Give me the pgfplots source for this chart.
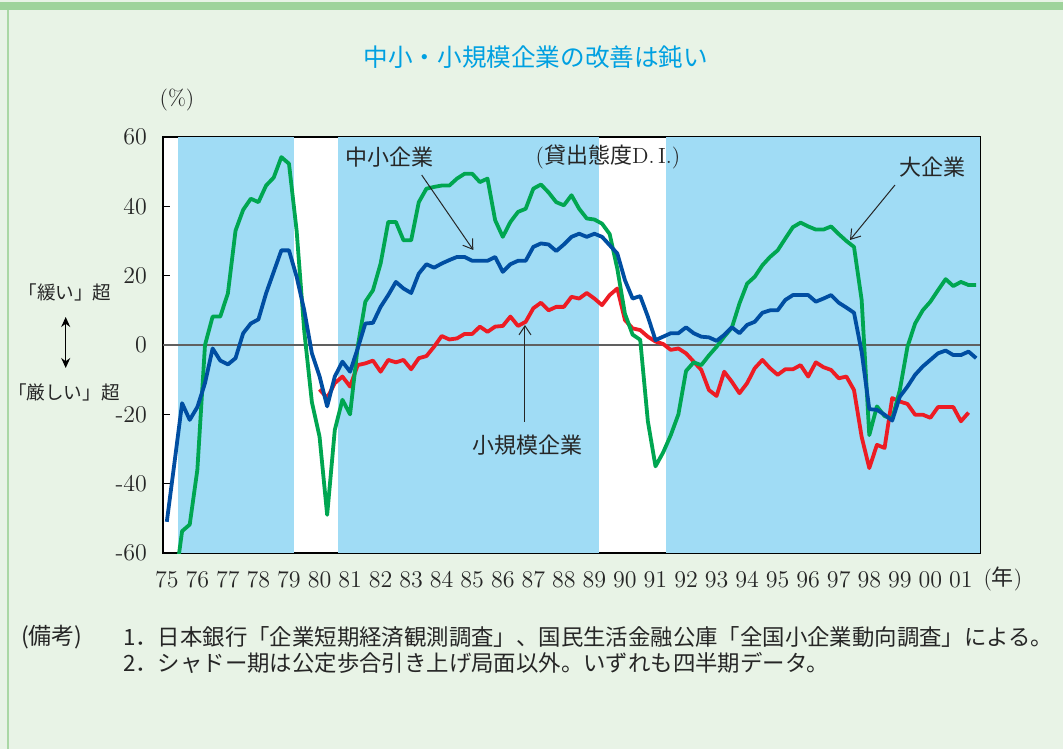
\documentclass[border=0pt]{standalone}
\usepackage{fontspec}
\usepackage{pgfplots}
\pgfplotsset{compat=1.18}
\usetikzlibrary{arrows.meta}
\newfontfamily\cjk{Noto Sans CJK JP}
\definecolor{bg}{RGB}{232,243,230}
\definecolor{topbar}{RGB}{158,211,155}
\definecolor{leftbar}{RGB}{170,215,165}
\definecolor{shade}{RGB}{160,220,245}
\definecolor{cgreen}{RGB}{0,166,81}
\definecolor{cblue}{RGB}{0,78,162}
\definecolor{cred}{RGB}{237,28,36}
\definecolor{ctitle}{RGB}{0,160,225}
\definecolor{zline}{RGB}{96,96,96}

\pgfplotstableread{
i v
0 -72
1 -70
2 -53.7
3 -51.8
4 -36
5 0
6 8.2
7 8.2
8 14.9
9 33
10 39
11 42.2
12 41.2
13 46
14 48.3
15 54.2
16 52.3
17 33
18 4
19 -16.5
20 -26.4
21 -49
22 -24.5
23 -15.8
24 -20
25 -0.5
26 12.5
27 15.8
28 23.5
29 35.5
30 35.5
31 30.2
32 30.2
33 41.2
34 45.1
35 45.6
36 46
37 46
38 48
39 49.4
40 49.4
41 47
42 48
43 36
44 31.2
45 35.5
46 38.4
47 39.3
48 45.1
49 46.3
50 44
51 41.2
52 40.3
53 43.2
54 39.3
55 36.5
56 36.2
57 35
58 32
59 22
60 9
61 3
62 1.5
63 -22
64 -35
65 -31
66 -26
67 -20
68 -7.5
69 -5
70 -5.8
71 -3
72 -0.5
73 2.4
74 5
75 12
76 17.7
77 19.7
78 23
79 25.4
80 27.3
81 30.7
82 34
83 35.3
84 34.2
85 33.3
86 33.3
87 34.2
88 32
89 30
90 28.3
91 13
92 -26
93 -17.7
94 -20.5
95 -21.3
96 -13
97 -0.5
98 6.2
99 10
100 12.5
101 15.8
102 19
103 17
104 18.2
105 17.3
106 17.3
}\large

\pgfplotstableread{
i v
0 -51
1 -34
2 -16.8
3 -21.6
4 -17.9
5 -11
6 -1
7 -4.5
8 -5.6
9 -3.8
10 3.4
11 6.2
12 7.4
13 14.9
14 21.1
15 27.3
16 27.3
17 19.7
18 10
19 -2.4
20 -9
21 -17.7
22 -9.1
23 -4.8
24 -7.7
25 -1
26 6.2
27 6.4
28 11
29 14.4
30 18.2
31 16.3
32 15
33 20.6
34 23.3
35 22.3
36 23.5
37 24.5
38 25.4
39 25.4
40 24.3
41 24.3
42 24.3
43 25.4
44 21.1
45 23.3
46 24.3
47 24.3
48 28.3
49 29.3
50 29
51 27.1
52 29
53 31.2
54 32.1
55 31.2
56 32.1
57 31.2
58 28.8
59 26.4
60 18.7
61 13.4
62 14.1
63 8.2
64 1.4
65 2.4
66 3.4
67 3.4
68 5.1
69 3.4
70 2.4
71 2.2
72 1.2
73 2.9
74 5.1
75 3.4
76 5.8
77 6.7
78 9.3
79 10
80 10
81 13
82 14.4
83 14.4
84 14.4
85 12.5
86 13.4
87 14.4
88 12.2
89 10.8
90 9.3
91 -2
92 -18.5
93 -18.7
94 -20.1
95 -21.8
96 -14.9
97 -12
98 -8.6
99 -6.2
100 -4.3
101 -2.4
102 -1.6
103 -2.9
104 -2.9
105 -1.9
106 -3.8
}\mid

\pgfplotstableread{
i v
20 -12.8
21 -15.3
22 -11
23 -9.1
24 -12
25 -5.8
26 -5.3
27 -4.5
28 -7.7
29 -4.3
30 -5
31 -4.3
32 -7
33 -3.8
34 -3.2
35 -0.5
36 2.6
37 1.6
38 1.9
39 3.2
40 3.2
41 5.3
42 3.8
43 5.3
44 5.5
45 8.2
46 5.5
47 6.7
48 10.6
49 12.2
50 10
51 11
52 11
53 13.9
54 13.4
55 15
56 13.4
57 11.5
58 14.4
59 16.3
60 7.2
61 4.8
62 4.3
63 2.4
64 1
65 0.3
66 -1.4
67 -1
68 -2.4
69 -4.8
70 -7.2
71 -13
72 -14.7
73 -7.7
74 -10.6
75 -13.9
76 -11
77 -6.7
78 -4.3
79 -6.7
80 -8.6
81 -7
82 -7
83 -5.8
84 -9.1
85 -5
86 -6.4
87 -7.2
88 -9.6
89 -9.1
90 -13
91 -26.5
92 -35.5
93 -28.8
94 -29.7
95 -15.3
96 -16.3
97 -17
98 -20.1
99 -20.1
100 -21
101 -17.9
102 -17.9
103 -17.9
104 -22
105 -19.5
}\small

\begin{document}
\begin{tikzpicture}
\fill[bg] (0,0) rectangle (531.5bp,-374.5bp);
\path[use as bounding box] (0,0) rectangle (531.5bp,-374.5bp);
\fill[topbar] (0,-1bp) rectangle (531.5bp,-5bp);
\fill[leftbar] (3.5bp,-5bp) rectangle (4.6bp,-374.5bp);
\begin{axis}[
  at={(81.5bp,-276.5bp)}, anchor=south west,
  scale only axis, width=408.5bp, height=208bp,
  xmin=-0.5, xmax=106.5, ymin=-60, ymax=60,
  xtick={0,4,...,104},
  xticklabels={75,76,77,78,79,80,81,82,83,84,85,86,87,88,89,90,91,92,93,94,95,96,97,98,99,00,01},
  ytick={-60,-40,-20,0,20,40,60},
  yticklabels={-60,-40,-20,0,20,40,60},
  tick align=inside, major tick length=3.5bp,
  xtick style={draw=none},
  ytick style={black, line width=0.6bp},
  axis line style={black, line width=0.9bp},
  tick label style={font=\fontsize{12bp}{14bp}\selectfont, text=black!85},
  yticklabel style={xshift=-4.5bp},
  xticklabel style={yshift=-5.5bp},
  axis background/.style={fill=white},
]
\addplot[fill=shade, draw=none] coordinates {(1.45,-60) (16.65,-60) (16.65,60) (1.45,60)} -- cycle;
\addplot[fill=shade, draw=none] coordinates {(22.45,-60) (56.6,-60) (56.6,60) (22.45,60)} -- cycle;
\addplot[fill=shade, draw=none] coordinates {(65.4,-60) (106.5,-60) (106.5,60) (65.4,60)} -- cycle;
\addplot[zline, line width=0.6bp] coordinates {(-0.5,0) (106.5,0)};
\addplot[cred, line width=1.9bp, line join=round] table[x=i, y=v] {\small};
\addplot[cgreen, line width=1.9bp, line join=round] table[x=i, y=v] {\large};
\addplot[cblue, line width=1.9bp, line join=round] table[x=i, y=v] {\mid};
\end{axis}
\begin{scope}[x=0.5bp, y=-0.5bp]
\node[font={\fontsize{12.3bp}{14bp}\cjk}, text=ctitle] at (536,57) {中小・小規模企業の改善は鈍い};
\node[font=\fontsize{11bp}{13bp}\selectfont, text=black!85] at (177,100) {(\%)};
\node[font={\fontsize{11bp}{13bp}\cjk}, text=black!85] at (390,157) {中小企業};
\node[text=black!85] at (608,157) {\fontsize{11bp}{13bp}\selectfont(\cjk 貸出態度\rmfamily D.\,I.)};
\node[font={\fontsize{11bp}{13bp}\cjk}, text=black!85] at (933,167) {大企業};
\node[font={\fontsize{11bp}{13bp}\cjk}, text=black!85] at (528,445) {小規模企業};
\draw[black!85, line width=0.5bp, -{Straight Barb[length=4.5bp,width=6bp]}] (421.7,175) -- (473.3,250);
\draw[black!85, line width=0.5bp, -{Straight Barb[length=4.5bp,width=6bp]}] (895,185) -- (850,240);
\draw[black!85, line width=0.5bp, -{Straight Barb[length=4.5bp,width=6bp]}] (525,422) -- (525,325);
\node[font={\fontsize{9.3bp}{11bp}\cjk}, text=black!85] at (65,292) {「緩い」超};
\node[font={\fontsize{9.3bp}{11bp}\cjk}, text=black!85] at (64,392) {「厳しい」超};
\draw[black, line width=0.7bp, {Stealth[length=5bp,width=4.5bp]}-{Stealth[length=5bp,width=4.5bp]}] (65.7,317) -- (65.7,368);
\node[text=black!85] at (1003,579) {\fontsize{11bp}{13bp}\selectfont(\cjk 年\rmfamily)};
\node[anchor=west, font={\fontsize{11.5bp}{13bp}\cjk}, text=black!85] at (14,637) {(備考)};
\node[anchor=west, font={\fontsize{11.2bp}{13bp}\cjk}, text=black!85] at (116,637) {1．日本銀行「企業短期経済観測調査」、国民生活金融公庫「全国小企業動向調査」による。};
\node[anchor=west, font={\fontsize{11.2bp}{13bp}\cjk}, text=black!85] at (116,663) {2．シャドー期は公定歩合引き上げ局面以外。いずれも四半期データ。};
\end{scope}
\end{tikzpicture}
\end{document}
